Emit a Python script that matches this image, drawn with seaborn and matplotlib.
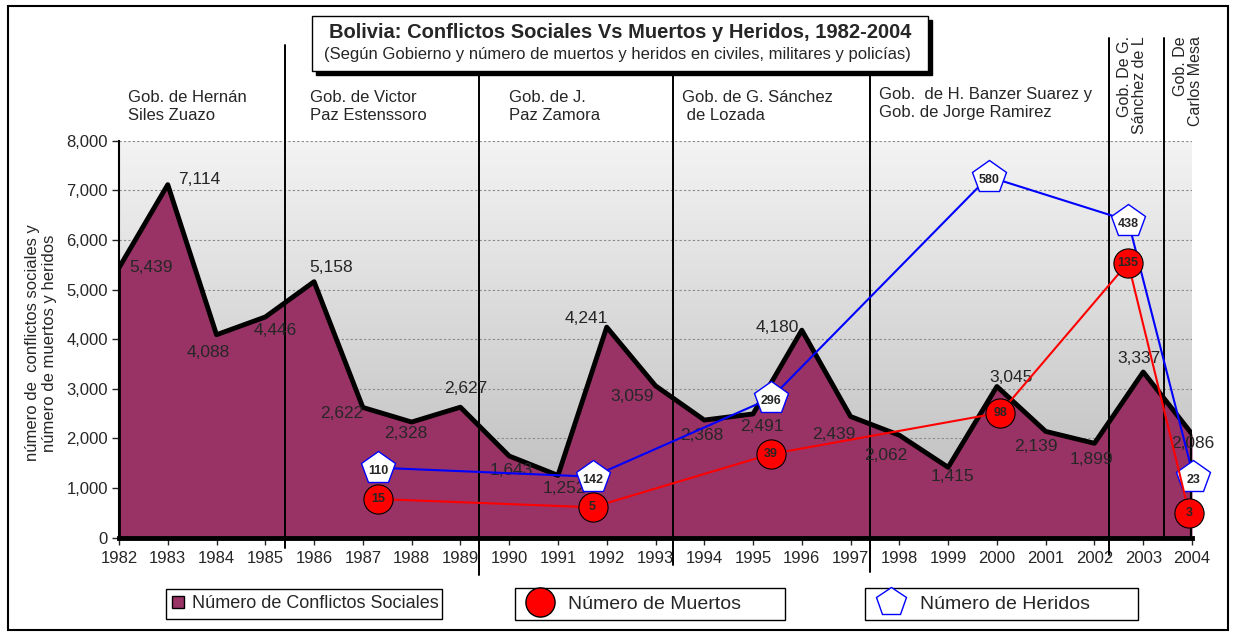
import numpy as np
import matplotlib
matplotlib.use('Agg')
import matplotlib.pyplot as plt
import seaborn as sns
import pandas as pd
from matplotlib.colors import LinearSegmentedColormap
from matplotlib.lines import Line2D
from matplotlib.patches import Rectangle
from matplotlib.transforms import blended_transform_factory

# datos
anios = list(range(1982, 2005))
conflictos = [5439, 7114, 4088, 4446, 5158, 2622, 2328, 2627, 1643, 1252, 4241, 3059,
              2368, 2491, 4180, 2439, 2062, 1415, 3045, 2139, 1899, 3337, 2086]

# muertos y heridos: posicion en el grafico y valor rotulado
muertos_x = [1987.31, 1991.71, 1995.37, 2000.07, 2002.69, 2003.94]
muertos_y = [776, 609, 1683, 2516, 5540, 500]
muertos = [15, 5, 39, 98, 135, 3]

heridos_x = [1987.31, 1991.71, 1995.37, 1999.83, 2002.69, 2004.03]
heridos_y = [1407, 1226, 2812, 7274, 6387, 1226]
heridos = [110, 142, 296, 580, 438, 23]

# cambios de gobierno (anio) y rotulos
cortes = [1985.40, 1989.39, 1993.35, 1997.40, 2002.30, 2003.42]
gobiernos = ["Gob. de Hernán\nSiles Zuazo", "Gob. de Victor\nPaz Estenssoro",
             "Gob. de J.\nPaz Zamora", "Gob. de G. Sánchez\n de Lozada",
             "Gob.  de H. Banzer Suarez y\nGob. de Jorge Ramirez"]
gobiernos_v = ["Gob. De G.\nSánchez de L", "Gob. De\nCarlos Mesa"]

titulo = "Bolivia: Conflictos Sociales Vs Muertos y Heridos, 1982-2004"
subtitulo = "(Según Gobierno y número de muertos y heridos en civiles, militares y policías)"

# desplazamiento de los rotulos (pixeles)
despl = [(32, 0), (31, -5), (-8, 18), (10, 14), (17, -14), (-21, 6), (-6, 11), (5, -19),
         (2, 14), (6, 13), (-20, -9), (-23, 11), (-3, 15), (9, 13), (-25, -3), (-17, 18),
         (-14, 20), (4, 9), (14, -9), (-10, 15), (-3, 16), (-4, -13), (1, 9)]

sns.set_style('white')
plt.rcParams['font.family'] = ['Liberation Sans', 'DejaVu Sans']

W, H = 1233, 633
fig = plt.figure(figsize=(W / 100, H / 100), dpi=100)


def fx(x):
    return x / W


def fy(y):
    return 1 - y / H


ax = fig.add_axes([fx(119), fy(537.5), fx(1192 - 119), (537.5 - 140.7) / H])

# fondo degradado
gris = LinearSegmentedColormap.from_list('gris', ['#f3f3f3', '#bababa'])
ax.imshow(np.linspace(0, 1, 256).reshape(-1, 1), extent=[1982, 2004, 0, 8000],
          aspect='auto', cmap=gris, origin='upper', zorder=0)

df = pd.DataFrame({'anio': anios, 'conflictos': conflictos})
ax.fill_between(df['anio'], df['conflictos'], color='#993366', zorder=2, lw=0)
sns.lineplot(data=df, x='anio', y='conflictos', color='black', lw=3.5, ax=ax, zorder=3)
ax.plot([1982, 1982], [0, conflictos[0]], color='black', lw=2, zorder=3)
ax.plot([2004, 2004], [0, conflictos[-1]], color='black', lw=3, zorder=3)

ax.set_xlim(1982, 2004)
ax.set_ylim(0, 8000)
ax.set_xticks(anios)
ax.set_xticklabels([str(a) for a in anios])
ax.set_yticks(range(0, 8001, 1000))
ax.set_yticklabels([f"{v:,}" for v in range(0, 8001, 1000)])
ax.tick_params(axis='y', direction='out', length=5, width=1, pad=3, labelsize=12, left=True)
ax.tick_params(axis='x', direction='out', length=5, width=1, pad=5, labelsize=12, bottom=True)
ax.set_xlabel('')
ax.set_ylabel('')
ax.yaxis.grid(True, linestyle=(0, (2, 2)), color='#8a8a8a', lw=0.8)
ax.set_axisbelow(True)
for s in ['top', 'right']:
    ax.spines[s].set_visible(False)
ax.spines['left'].set_linewidth(1.5)
ax.spines['left'].set_color('black')
ax.spines['bottom'].set_linewidth(3.5)
ax.spines['bottom'].set_color('black')
ax.spines['bottom'].set_zorder(4)

for a, v, (dx, dy) in zip(anios, conflictos, despl):
    ax.annotate(f"{v:,}", (a, v), xytext=(dx, -dy), textcoords='offset pixels',
                ha='center', va='center', fontsize=12.5, zorder=6)

# lineas de gobierno
tr = blended_transform_factory(ax.transData, ax.transAxes)
extremos = [(1.24, -0.026), (1.25, -0.095), (1.25, -0.069), (1.25, -0.087), (1.26, -0.044), (1.26, 0)]
for c, (y1, y0) in zip(cortes, extremos):
    ax.plot([c, c], [y0, y1], transform=tr, color='black', lw=1.4, clip_on=False, zorder=4)

# heridos y muertos
n0 = len(ax.lines)
sns.lineplot(x=heridos_x, y=heridos_y, color='#0000ff', lw=1.5, marker='p', markersize=25,
             markerfacecolor='white', markeredgecolor='#0000ff', markeredgewidth=1,
             ax=ax, zorder=7, sort=False)
sns.lineplot(x=muertos_x, y=muertos_y, color='#ff0000', lw=1.5, marker='o', markersize=21,
             markerfacecolor='#ff0000', markeredgecolor='black', markeredgewidth=0.8,
             ax=ax, zorder=7, sort=False)
for ln in ax.lines[n0:]:
    ln.set_clip_on(False)
for x, y, v in zip(heridos_x, heridos_y, heridos):
    ax.text(x, y - 60, str(v), ha='center', va='center', fontsize=9, fontweight='bold', zorder=8)
for x, y, v in zip(muertos_x, muertos_y, muertos):
    ax.text(x, y, str(v), ha='center', va='center', fontsize=9, fontweight='bold', zorder=8)

# rotulos de gobiernos
pos_gob = [(128, 90), (310, 90), (509, 90), (682, 90), (879, 87)]
for t, (x, y) in zip(gobiernos, pos_gob):
    fig.text(fx(x), fy(y), t, ha='left', va='top', fontsize=12, linespacing=1.25)
for t, x in zip(gobiernos_v, [1132, 1188]):
    fig.text(fx(x), fy(36), t, rotation=90, ha='center', va='top', fontsize=11.5,
             multialignment='right', linespacing=1.0,
             bbox=dict(facecolor='white', edgecolor='none', pad=0.5))

# eje y
fig.text(fx(41), fy(343), "número de  conflictos sociales y\nnúmero de muertos y heridos",
         rotation=90, ha='center', va='center', fontsize=12, multialignment='center',
         linespacing=1.15)

# caja del titulo
fig.patches.append(Rectangle((fx(316), fy(75)), fx(928 - 312), (70 - 15) / H,
                             transform=fig.transFigure, facecolor='black', edgecolor='black', zorder=9))
fig.patches.append(Rectangle((fx(312), fy(71)), fx(928 - 312), (70 - 15) / H,
                             transform=fig.transFigure, facecolor='white', edgecolor='black',
                             lw=1, zorder=10))
fig.text(fx(620), fy(32), titulo, ha='center', va='center', fontsize=14.5, fontweight='bold', zorder=11)
fig.text(fx(617), fy(55), subtitulo, ha='center', va='center', fontsize=12, zorder=11)

# borde de la figura
fig.patches.append(Rectangle((fx(8), fy(630)), fx(1228 - 8), (630 - 6) / H,
                             transform=fig.transFigure, fill=False, edgecolor='black', lw=1.5))

# leyendas
ley = [
    (Line2D([], [], ls='none', marker='s', markersize=8, markerfacecolor='#993366',
            markeredgecolor='black'), "Número de Conflictos Sociales", 166, 442, 13, 0.6),
    (Line2D([], [], ls='none', marker='o', markersize=21, markerfacecolor='#ff0000',
            markeredgecolor='black'), "Número de Muertos", 515, 785, 14, 1.9),
    (Line2D([], [], ls='none', marker='p', markersize=22, markerfacecolor='white',
            markeredgecolor='#0000ff'), "Número de Heridos", 865, 1138, 14, 2.0),
]
for h, t, x0, x1, fs, hl in ley:
    lg = fig.legend(handles=[h], labels=[t], loc='center', mode='expand',
                    bbox_to_anchor=(fx(x0), fy(620), fx(x1 - x0), 32 / H),
                    frameon=True, fancybox=False, edgecolor='black', framealpha=1,
                    fontsize=fs, borderpad=0.35, handlelength=hl, handletextpad=0.5,
                    borderaxespad=0)
    lg.get_frame().set_linewidth(1)

fig.savefig('out.png', dpi=100)
